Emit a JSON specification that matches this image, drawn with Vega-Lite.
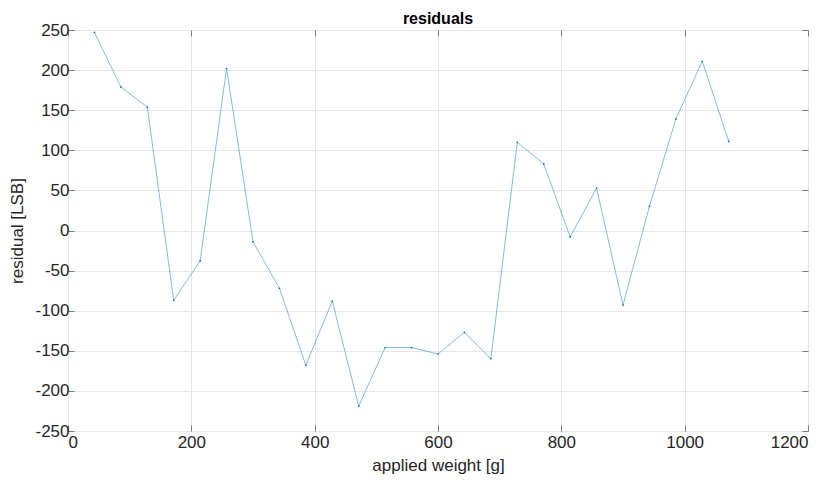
{
  "$schema": "https://vega.github.io/schema/vega-lite/v6.json",
  "autosize": "none",
  "width": 740,
  "height": 401,
  "padding": {"left": 68, "top": 30, "right": 19, "bottom": 49},
  "background": "white",
  "config": {
    "font": "Liberation Sans",
    "view": {"stroke": "#8a8a8a", "strokeWidth": 1},
    "axis": {
      "domain": false,
      "grid": true,
      "gridColor": "#e6e6e6",
      "gridWidth": 1,
      "tickColor": "#7a7a7a",
      "tickSize": -6,
      "labelFont": "Liberation Sans",
      "labelFontSize": 17,
      "labelColor": "#262626",
      "labelExpr": "'' + datum.value",
      "titleFont": "Liberation Sans",
      "titleFontSize": 17,
      "titleFontWeight": "normal",
      "titleColor": "#262626"
    }
  },
  "title": {
    "text": "residuals",
    "font": "Liberation Sans",
    "fontSize": 16,
    "fontWeight": "bold",
    "color": "#000000",
    "anchor": "middle",
    "offset": 6,
    "dy": 12
  },
  "data": {
    "values": [
      {"weight": 42.86, "residual": 247},
      {"weight": 85.71, "residual": 179},
      {"weight": 128.57, "residual": 154},
      {"weight": 171.43, "residual": -87},
      {"weight": 214.29, "residual": -38},
      {"weight": 257.14, "residual": 202},
      {"weight": 300.0, "residual": -14},
      {"weight": 342.86, "residual": -72},
      {"weight": 385.71, "residual": -168},
      {"weight": 428.57, "residual": -88},
      {"weight": 471.43, "residual": -219},
      {"weight": 514.29, "residual": -146},
      {"weight": 557.14, "residual": -146},
      {"weight": 600.0, "residual": -154},
      {"weight": 642.86, "residual": -127},
      {"weight": 685.71, "residual": -160},
      {"weight": 728.57, "residual": 110},
      {"weight": 771.43, "residual": 83},
      {"weight": 814.29, "residual": -8},
      {"weight": 857.14, "residual": 53},
      {"weight": 900.0, "residual": -93},
      {"weight": 942.86, "residual": 30},
      {"weight": 985.71, "residual": 139},
      {"weight": 1028.57, "residual": 211},
      {"weight": 1071.43, "residual": 111}
    ]
  },
  "layer": [
    {
      "mark": {"type": "line", "color": "#4a9fd8", "strokeWidth": 0.7, "point": {"filled": true, "size": 3, "color": "#0072BD"}},
      "encoding": {
        "x": {
          "field": "weight", "type": "quantitative",
          "scale": {"domain": [0, 1200], "nice": false},
          "axis": {"values": [0, 200, 400, 600, 800, 1000, 1200], "title": "applied weight [g]", "labelPadding": 9, "titlePadding": 7}
        },
        "y": {
          "field": "residual", "type": "quantitative",
          "scale": {"domain": [-250, 250], "nice": false},
          "axis": {"values": [-250, -200, -150, -100, -50, 0, 50, 100, 150, 200, 250], "title": "residual [LSB]", "labelPadding": 5, "titlePadding": 8}
        }
      }
    },
    {
      "mark": {"type": "line", "opacity": 0},
      "encoding": {
        "x": {
          "field": "weight", "type": "quantitative",
          "axis": {"orient": "top", "values": [0, 200, 400, 600, 800, 1000, 1200], "labels": false, "title": null, "grid": false}
        },
        "y": {
          "field": "residual", "type": "quantitative",
          "axis": {"orient": "right", "values": [-250, -200, -150, -100, -50, 0, 50, 100, 150, 200, 250], "labels": false, "title": null, "grid": false}
        }
      }
    }
  ],
  "resolve": {"axis": {"x": "independent", "y": "independent"}}
}
